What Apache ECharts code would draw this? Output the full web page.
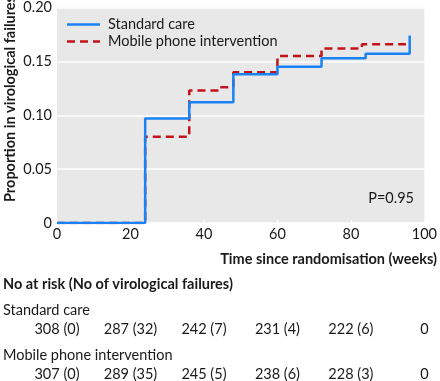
<!DOCTYPE html>
<html><head><meta charset="utf-8">
<script src="https://cdn.jsdelivr.net/npm/echarts@6/dist/echarts.min.js"></script>
<style>html,body{margin:0;padding:0;background:#fff;}#c{width:440px;height:381px;}</style>
</head><body><div id="c"></div>
<script>
// Step data: [week, cumulative proportion]
const stdWeeks = [0, 24, 36, 48, 60, 72, 84, 96];
const stdProp  = [0, 0.097, 0.112, 0.138, 0.145, 0.153, 0.157, 0.174];
const mobWeeks = [0, 24, 36, 44, 48, 60, 72, 83, 95];
const mobProp  = [0, 0.080, 0.123, 0.126, 0.140, 0.155, 0.162, 0.166, 0.166];
const xTicks = [0, 20, 40, 60, 80, 100];
const yTicks = [0, 0.05, 0.10, 0.15, 0.20];
const riskWeeks = [0, 20, 40, 60, 80, 100];
const stdAtRisk = [308, 287, 242, 231, 222, 0];
const stdFail   = [0, 32, 7, 4, 6, null];
const mobAtRisk = [307, 289, 245, 238, 228, 0];
const mobFail   = [0, 35, 5, 6, 3, null];
const seriesNames = ['Standard care', 'Mobile phone intervention'];
const pValue = 'P=0.95';

const FONT = 'Lato';
const FS = '14.5px ';
const BLUE = '#1a82f5', RED = '#c4121a';
const chart = echarts.init(document.getElementById('c'), null, {renderer: 'canvas'});
const zip = (a, b) => a.map((v, i) => [v, b[i]]);
const option = {
  animation: false,
  grid: {left: 57, right: 11, top: 6, bottom: 158, show: true, backgroundColor: '#e8e8e8', borderWidth: 0},
  xAxis: {
    type: 'value', min: 0, max: 100, interval: 20,
    axisLine: {show: false},
    axisTick: {show: true, inside: true, length: 3, lineStyle: {color: '#ffffff', width: 1}},
    axisLabel: {color: '#1a1a1a', fontFamily: FONT, fontSize: 14.5, margin: 4},
    splitLine: {show: false}
  },
  yAxis: {
    type: 'value', min: 0, max: 0.2, interval: 0.05,
    axisLine: {show: false}, axisTick: {show: false},
    axisLabel: {color: '#1a1a1a', fontFamily: FONT, fontSize: 14.5, margin: 5,
      formatter: v => v === 0 ? '0' : v.toFixed(2)},
    splitLine: {show: true, lineStyle: {color: '#ffffff', width: 1.5}}
  },
  series: [
    {name: seriesNames[1], type: 'line', step: 'end', data: zip(mobWeeks, mobProp),
     symbol: 'none', lineStyle: {color: RED, width: 2.5, type: [8, 5]}, itemStyle: {color: RED}, z: 2},
    {name: seriesNames[0], type: 'line', step: 'end', data: zip(stdWeeks, stdProp),
     symbol: 'none', lineStyle: {color: BLUE, width: 2.5}, itemStyle: {color: BLUE}, z: 3}
  ]
};
chart.setOption(option);

const px = w => chart.convertToPixel({xAxisIndex: 0}, w);
const txt = (text, x, y, opts) => Object.assign({
  type: 'text', x, y, silent: true,
  style: Object.assign({text, fill: '#1a1a1a', font: FS + FONT, textAlign: 'center', textVerticalAlign: 'middle'}, opts || {})
});
const cell = (n, f) => f === null ? String(n) : n + ' (' + f + ')';
const g = [];
// legend (drawn manually: line samples without markers)
g.push({type: 'line', silent: true, z: 10, shape: {x1: 67, y1: 24.5, x2: 100, y2: 24.5}, style: {stroke: BLUE, lineWidth: 2.5}});
g.push({type: 'line', silent: true, z: 10, shape: {x1: 67, y1: 41.5, x2: 100, y2: 41.5}, style: {stroke: RED, lineWidth: 2.5, lineDash: [8, 5]}});
g.push(txt(seriesNames[0], 108, 24, {textAlign: 'left'}));
g.push(txt(seriesNames[1], 108, 41, {textAlign: 'left'}));
g.push(Object.assign(txt('Proportion in virological failures', 10, 202, {font: 'bold ' + FS + FONT, textAlign: 'left'}), {rotation: Math.PI / 2}));
g.push(txt('Time since randomisation (weeks)', 437, 259, {font: 'bold ' + FS + FONT, textAlign: 'right'}));
g.push(txt(pValue, 414, 198, {textAlign: 'right'}));
g.push(txt('No at risk (No of virological failures)', 3, 284, {font: 'bold ' + FS + FONT, textAlign: 'left'}));
g.push(txt(seriesNames[0], 3, 310, {textAlign: 'left'}));
g.push(txt(seriesNames[1], 3, 355, {textAlign: 'left'}));
riskWeeks.forEach((w, i) => {
  g.push(txt(cell(stdAtRisk[i], stdFail[i]), px(w), 329));
  g.push(txt(cell(mobAtRisk[i], mobFail[i]), px(w), 374));
});
chart.setOption({graphic: g});
</script></body></html>
